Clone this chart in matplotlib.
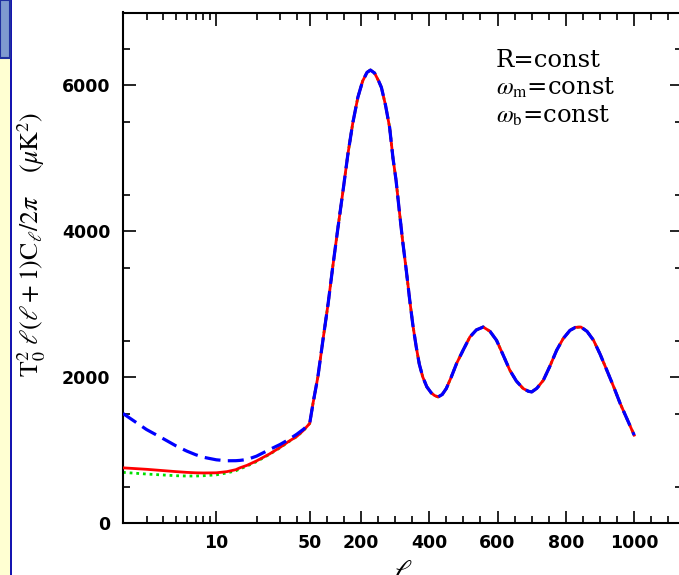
import numpy as np
import matplotlib.pyplot as plt
from matplotlib.patches import Rectangle
from matplotlib.ticker import NullFormatter

# multipoles (shared by all three models below l=50)
ell_low = [2, 3, 4, 5, 6, 7, 8, 10, 12, 14, 15, 17, 20, 25, 30, 35, 40, 45, 50]
red_low = [760, 740, 722, 708, 698, 692, 690, 692, 708, 735, 760, 795, 855, 950, 1040, 1125, 1190, 1275, 1368]
blue_low = [1505, 1285, 1160, 1060, 990, 940, 905, 870, 857, 858, 862, 875, 920, 1010, 1080, 1150, 1220, 1290, 1368]
green_low = [698, 675, 662, 652, 648, 648, 652, 664, 690, 720, 745, 785, 845, 945, 1035, 1120, 1188, 1272, 1368]

# above l=50 the three curves lie on top of each other
ell_high = [60, 74, 90, 104, 118, 133, 148, 162, 176, 191, 205, 218, 228, 240, 252, 260,
            272, 284, 294, 303, 312, 322, 333, 343, 352, 362, 371, 381, 393, 406, 416, 426,
            438, 450, 465, 480, 500, 519, 538, 558, 578, 597, 616, 636, 655, 675, 690, 700,
            715, 734, 753, 773, 792, 812, 828, 844, 862, 881, 900, 920, 940, 959, 980, 1000]
cl_high = [1650, 2006, 2550, 3010, 3530, 4058, 4570, 5062, 5480, 5836, 6060, 6180, 6211, 6170, 6060, 5973,
           5730, 5426, 5000, 4696, 4300, 3876, 3460, 3055, 2720, 2416, 2180, 2006, 1870, 1787, 1750, 1732,
           1765, 1847, 2010, 2189, 2380, 2553, 2650, 2690, 2630, 2508, 2310, 2097, 1950, 1847, 1810, 1800,
           1850, 1960, 2150, 2371, 2530, 2644, 2685, 2690, 2630, 2508, 2320, 2097, 1870, 1642, 1420, 1208]

xticks_major = [10, 50, 200, 400, 600, 800, 1000]
xticks_minor = [3, 4, 5, 6, 7, 8, 9, 20, 30, 40] + [v for v in range(100, 1150, 50) if v not in xticks_major]
yticks_major = [0, 2000, 4000, 6000]
yticks_minor = list(range(500, 7000, 1000))

# hybrid axis: log up to l=50, linear after
DECADE = 133.5
SLOPE = 0.3415
U50 = DECADE * np.log10(25.0)


def fwd(l):
    l = np.asarray(l, float)
    low = DECADE * np.log10(np.clip(l, 1e-6, None) / 2.0)
    high = U50 + (l - 50.0) * SLOPE
    return np.where(l <= 50, low, high)


def inv(u):
    u = np.asarray(u, float)
    low = 2.0 * 10 ** (np.clip(u, -2000, U50 + 1) / DECADE)
    high = 50.0 + (u - U50) / SLOPE
    return np.where(u <= U50, low, high)


plt.rcParams['mathtext.fontset'] = 'stix'

fig = plt.figure(figsize=(6.79, 5.75), dpi=100)

# left-hand slide decoration
fig.patches.append(Rectangle((0, 0), 10 / 679, 1, transform=fig.transFigure,
                             facecolor='#FFFFD2', edgecolor='none', zorder=0))
fig.patches.append(Rectangle((10 / 679, 0), 2.3 / 679, 1, transform=fig.transFigure,
                             facecolor='#1515B0', edgecolor='none', zorder=1))
fig.patches.append(Rectangle((0, 1 - 58 / 575), 9.5 / 679, 58 / 575, transform=fig.transFigure,
                             facecolor='#7F9AD0', edgecolor='#2030A0', linewidth=1.5, zorder=2))

ax = fig.add_axes([123 / 679, 1 - 523.3 / 575, 559 / 679, 510.8 / 575])

ell_all = ell_low + ell_high
ax.plot(ell_all, green_low + cl_high, color='#00E000', lw=2.0, linestyle=(0, (1, 1.4)), zorder=2)
ax.plot(ell_all, red_low + cl_high, color='#FF0000', lw=2.0, zorder=3)
ax.plot(ell_all, blue_low + cl_high, color='#0000FF', lw=2.3, linestyle=(0, (5, 2.3)), zorder=4)

ax.set_xscale('function', functions=(fwd, inv))
ax.set_xlim(2, 1140)
ax.set_ylim(0, 7000)

ax.set_xticks(xticks_major)
ax.set_xticklabels([str(v) for v in xticks_major])
ax.set_xticks(xticks_minor, minor=True)
ax.xaxis.set_minor_formatter(NullFormatter())
ax.set_yticks(yticks_major)
ax.set_yticks(yticks_minor, minor=True)
ax.yaxis.set_minor_formatter(NullFormatter())

for s in ax.spines.values():
    s.set_linewidth(1.5)
ax.tick_params(which='both', direction='in', top=True, right=True, width=1.2)
ax.tick_params(which='major', length=9)
ax.tick_params(which='minor', length=5)
ax.tick_params(axis='x', which='major', pad=8)
ax.tick_params(axis='y', which='major', pad=9)
for lab in ax.get_xticklabels() + ax.get_yticklabels():
    lab.set_fontweight('bold')
    lab.set_fontsize(12.5)

ax.set_xlabel(r'$\ell$', fontsize=22, labelpad=4)
ax.set_ylabel(r'$\mathrm{T_0^2}\ \ell(\ell+1)\mathrm{C}_\ell/2\pi\ \ \ \ (\mu\mathrm{K}^2)$', fontsize=18.5)
ax.yaxis.set_label_coords(-0.135, 0.547)

txt_kw = dict(transform=ax.transAxes, family='DejaVu Serif', fontsize=17.5, va='baseline', ha='left')
ax.text(0.667, 0.894, 'R=const', **txt_kw)
ax.text(0.667, 0.8385, r'$\omega_{\mathrm{m}}$=const', **txt_kw)
ax.text(0.667, 0.7837, r'$\omega_{\mathrm{b}}$=const', **txt_kw)

plt.savefig('out.png', dpi=100)
